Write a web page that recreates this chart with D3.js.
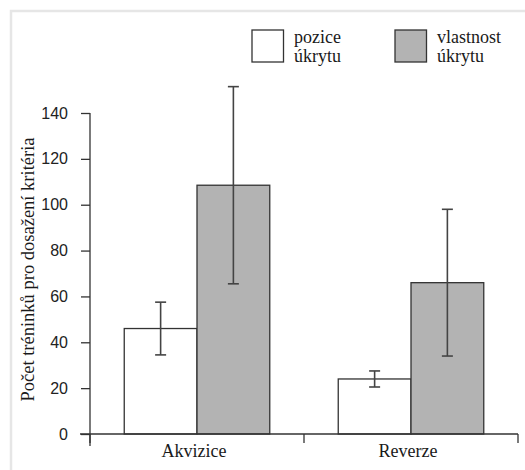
<!DOCTYPE html>
<html>
<head>
<meta charset="utf-8">
<script src="https://cdn.jsdelivr.net/npm/d3@7"></script>
<style>
  body { margin: 0; background: #fff; }
  svg { display: block; }
</style>
</head>
<body>
<div id="chart"></div>
<script>
// Data
var categories = ["Akvizice", "Reverze"];
var seriesNames = [["pozice", "úkrytu"], ["vlastnost", "úkrytu"]];
var seriesFill = ["#ffffff", "#b3b3b3"];
var pozice = [46, 24];
var poziceErr = [11.5, 3.5];
var vlastnost = [108.5, 66];
var vlastnostErr = [43, 32];
var yTicks = [0, 20, 40, 60, 80, 100, 120, 140];
var yTitle = "Počet tréninků pro dosažení kritéria";

(function(){
var W = 525, H = 470;
var SERIF = "'Liberation Serif'", SANS = "'Liberation Sans'";
var svg = d3.select("#chart").append("svg").attr("width", W).attr("height", H);

// light frame around the figure
svg.append("rect")
  .attr("x", 11).attr("y", 11).attr("width", 540).attr("height", 480)
  .style("fill", "none").style("stroke", "#e6e6e6").style("stroke-width", 2.5);

var plotL = 90, plotR = 518, plotT = 113, plotB = 434;

var y = d3.scaleLinear().domain([0, 140]).range([plotB, plotT]);
var x0 = d3.scaleBand().domain(categories).range([plotL, plotR])
  .paddingInner(0.32).paddingOuter(0.16);
var x1 = d3.scaleBand().domain([0, 1]).range([0, x0.bandwidth()]);

var rows = categories.map(function(c, i){
  return {cat: c, vals: [
    {s: 0, v: pozice[i], e: poziceErr[i]},
    {s: 1, v: vlastnost[i], e: vlastnostErr[i]}
  ]};
});

var lineCol = "#333";

// bars
var grp = svg.selectAll(".grp").data(rows).enter().append("g")
  .attr("transform", function(d){ return "translate(" + x0(d.cat) + ",0)"; });

grp.selectAll("rect").data(function(d){ return d.vals; }).enter().append("rect")
  .attr("x", function(d){ return x1(d.s); })
  .attr("y", function(d){ return y(d.v); })
  .attr("width", x1.bandwidth())
  .attr("height", function(d){ return y(0) - y(d.v); })
  .style("fill", function(d){ return seriesFill[d.s]; })
  .style("stroke", lineCol).style("stroke-width", 1.3);

// error bars
var cap = 5.5;
var eb = grp.selectAll(".eb").data(function(d){ return d.vals; }).enter().append("g")
  .style("stroke", "#444").style("stroke-width", 1.6);
eb.append("line")
  .attr("x1", function(d){ return x1(d.s) + x1.bandwidth()/2; })
  .attr("x2", function(d){ return x1(d.s) + x1.bandwidth()/2; })
  .attr("y1", function(d){ return y(d.v + d.e); })
  .attr("y2", function(d){ return y(d.v - d.e); });
[1, -1].forEach(function(sg){
  eb.append("line")
    .attr("x1", function(d){ return x1(d.s) + x1.bandwidth()/2 - cap; })
    .attr("x2", function(d){ return x1(d.s) + x1.bandwidth()/2 + cap; })
    .attr("y1", function(d){ return y(d.v + sg*d.e); })
    .attr("y2", function(d){ return y(d.v + sg*d.e); });
});

// y axis
var yAxis = d3.axisLeft(y).tickValues(yTicks).tickSize(9).tickPadding(13).tickSizeOuter(0);
var ya = svg.append("g").attr("transform", "translate(" + plotL + ",0)").call(yAxis);
ya.select(".domain").remove();
ya.selectAll(".tick line").style("stroke", lineCol).style("stroke-width", 1.3);
ya.selectAll(".tick text")
  .style("font-family", SANS)
  .style("font-size", "16px").style("fill", "#222");
svg.append("line")
  .attr("x1", plotL).attr("x2", plotL).attr("y1", plotT).attr("y2", plotB + 12)
  .style("stroke", lineCol).style("stroke-width", 1.3);

// x axis
svg.append("line")
  .attr("x1", plotL - 10).attr("x2", plotR).attr("y1", plotB).attr("y2", plotB)
  .style("stroke", lineCol).style("stroke-width", 1.3);
var bounds = [plotL, (x0(categories[0]) + x0.bandwidth() + x0(categories[1])) / 2, plotR];
svg.selectAll(".xt").data(bounds).enter().append("line")
  .attr("x1", function(d){ return d; }).attr("x2", function(d){ return d; })
  .attr("y1", plotB).attr("y2", plotB + 9)
  .style("stroke", lineCol).style("stroke-width", 1.3);
svg.selectAll(".xl").data(categories).enter().append("text")
  .attr("x", function(d){ return x0(d) + x0.bandwidth()/2 - 3; })
  .attr("y", 457)
  .attr("text-anchor", "middle")
  .style("font-family", SERIF)
  .style("font-size", "18px").style("fill", "#1a1a1a")
  .text(function(d){ return d; });

// y title
svg.append("text")
  .attr("transform", "translate(34," + ((plotT + plotB) / 2 - 4) + ") rotate(-90)")
  .attr("text-anchor", "middle")
  .style("font-family", SERIF)
  .style("font-size", "18.5px").style("fill", "#1a1a1a")
  .text(yTitle);

// legend
var legX = [252, 395];
var leg = svg.selectAll(".leg").data(seriesNames).enter().append("g")
  .attr("transform", function(d, i){ return "translate(" + legX[i] + ",30)"; });
leg.append("rect")
  .attr("width", 31.5).attr("height", 32)
  .style("fill", function(d, i){ return seriesFill[i]; })
  .style("stroke", lineCol).style("stroke-width", 1.3);
var lt = leg.append("text")
  .attr("x", 42)
  .style("font-family", SERIF)
  .style("font-size", "18px").style("fill", "#1a1a1a");
lt.selectAll("tspan").data(function(d){ return d; }).enter().append("tspan")
  .attr("x", 42)
  .attr("y", function(d, i){ return 13 + i * 18.5; })
  .text(function(d){ return d; });
})();
</script>
</body>
</html>
